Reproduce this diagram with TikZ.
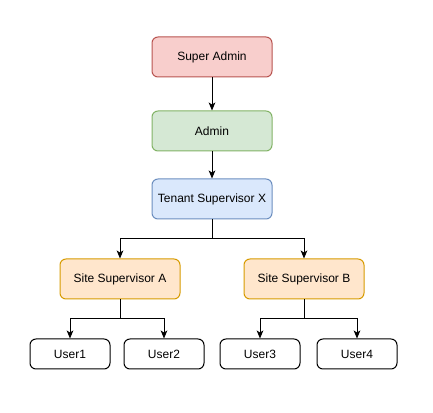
\documentclass[tikz,border=0pt]{standalone}
\usepackage{fontspec}
\setmainfont{Liberation Sans}
\usetikzlibrary{arrows.meta}
\definecolor{redF}{HTML}{F8CECC}\definecolor{redD}{HTML}{B85450}
\definecolor{grnF}{HTML}{D5E8D4}\definecolor{grnD}{HTML}{82B366}
\definecolor{bluF}{HTML}{DAE8FC}\definecolor{bluD}{HTML}{6C8EBF}
\definecolor{orgF}{HTML}{FFE6CC}\definecolor{orgD}{HTML}{D79B00}
\begin{document}
\begin{tikzpicture}[x=0.75pt,y=-0.75pt,
  box/.style={draw,rounded corners=4.5pt,line width=0.75pt,minimum width=90pt,minimum height=30pt,inner sep=0pt,font=\fontsize{9}{11}\selectfont},
  ubox/.style={box,draw=black,fill=white,minimum width=60pt,minimum height=22.5pt},
  conn/.style={line width=0.75pt,-{Stealth[length=6pt,width=5pt,inset=1.5pt]}}]
\useasboundingbox (0,0) rectangle (433,413);
\node[box,draw=redD,fill=redF] (sa) at (212,57) {Super Admin};
\node[box,draw=grnD,fill=grnF] (ad) at (212,131) {Admin};
\node[box,draw=bluD,fill=bluF] (ts) at (212,199) {Tenant Supervisor X};
\node[box,draw=orgD,fill=orgF] (sA) at (120,279) {Site Supervisor A};
\node[box,draw=orgD,fill=orgF] (sB) at (304,279) {Site Supervisor B};
\node[ubox] (u1) at (70,354) {User1};
\node[ubox] (u2) at (164,354) {User2};
\node[ubox] (u3) at (260,354) {User3};
\node[ubox] (u4) at (357,354) {User4};
\draw[conn] (sa) -- (ad);
\draw[conn] (ad) -- (ts);
\draw[conn] (ts.south) |- (212,239) -| (sA.north);
\draw[conn] (ts.south) |- (212,239) -| (sB.north);
\draw[conn] (sA.south) |- (120,319) -| (u1.north);
\draw[conn] (sA.south) |- (120,319) -| (u2.north);
\draw[conn] (sB.south) |- (304,319) -| (u3.north);
\draw[conn] (sB.south) |- (304,319) -| (u4.north);
\end{tikzpicture}
\end{document}
